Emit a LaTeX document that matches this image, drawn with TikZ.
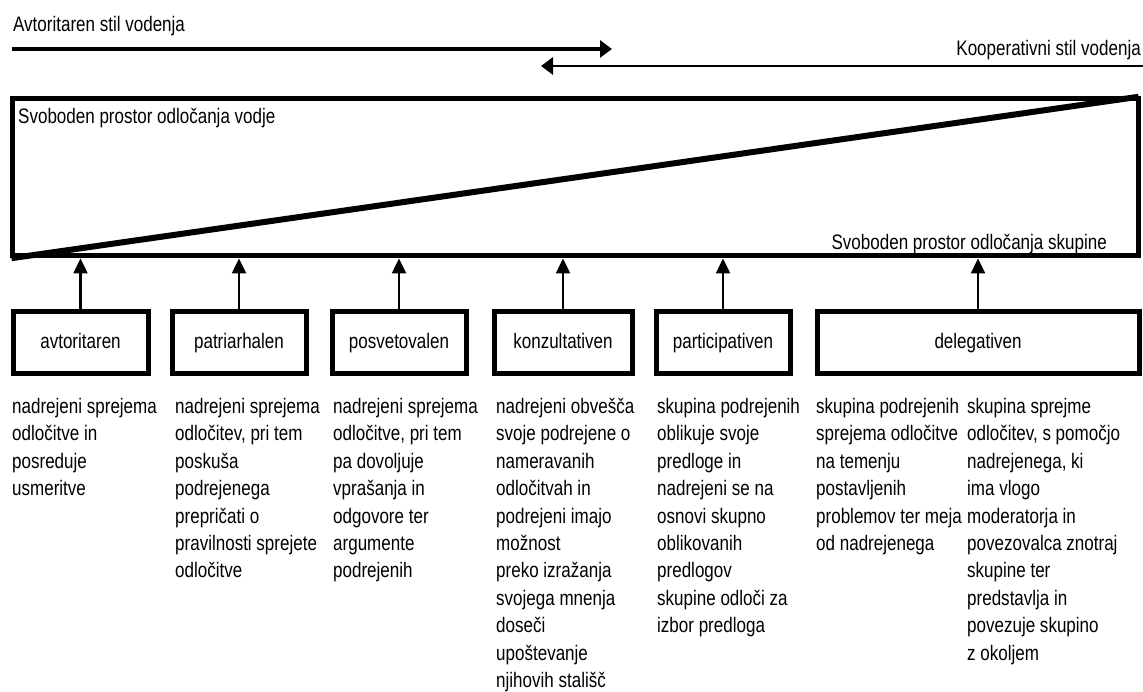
\documentclass[tikz,border=0pt]{standalone}
\usepackage{fontspec}
\setmainfont{Liberation Sans}[FakeStretch=0.81]
\usepackage{tikz}
\usetikzlibrary{arrows.meta,positioning,calc}

\begin{document}
\begin{tikzpicture}[
		x=1pt, y=-1pt,
		every node/.style={inner sep=0pt, font=\fontsize{21}{27.4}\selectfont},
		stilbox/.style={draw, line width=5pt, minimum height=62pt, text height=15pt, text depth=4.5pt},
		opis/.style={anchor=north west, align=left},
		gor/.style={-{Triangle[length=15pt,width=14pt]}, line width=2.5pt},
		smer/.style={-{Triangle[length=12pt,width=17pt]}}
	]
	\useasboundingbox (0,0) rectangle (1143,692);

	\node[anchor=base west] (avtstil) at (13,32) {Avtoritaren stil vodenja};
	\node[anchor=base east] (koopstil) at (1141,56) {Kooperativni stil vodenja};
	\coordinate (s1) at (12,49);
	\coordinate (s2) at (612,49);
	\coordinate (k1) at (1143,66);
	\coordinate (k2) at (541,66);
	\draw[smer, line width=3.6pt] (s1) -- (s2);
	\draw[smer, line width=2.8pt] (k1) -- (k2);

	\node[draw, line width=5pt, minimum width=1126pt, minimum height=157pt] (frame) at (575,177.5) {};
	\draw[line width=6pt, shorten <=2pt, shorten >=2pt] (frame.south west) -- (frame.north east);
	\node[anchor=base west] (vodja) at (18,124) {Svoboden prostor odločanja vodje};
	\node[anchor=base east] (skupina) at (1107,250) {Svoboden prostor odločanja skupine};

	\node[stilbox, minimum width=135pt] (avt) at (80.5,343) {avtoritaren};
	\node[stilbox, minimum width=134pt] (pat) at (239,343) {patriarhalen};
	\node[stilbox, minimum width=134pt] (pos) at (399,343) {posvetovalen};
	\node[stilbox, minimum width=138pt] (kon) at (563,343) {konzultativen};
	\node[stilbox, minimum width=134pt] (par) at (723,343) {participativen};
	\node[stilbox, minimum width=322pt] (del) at (978,343) {delegativen};

	\foreach \n in {avt,pat,pos,kon,par,del}
		\draw[gor] (\n.north) -- (\n.north |- frame.south);

	\node[opis] (avtopis) at (12,398) {nadrejeni sprejema\\odločitve in\\posreduje\\usmeritve};
	\node[opis] (patopis) at (175,398) {nadrejeni sprejema\\odločitev, pri tem\\poskuša\\podrejenega\\prepričati o\\pravilnosti sprejete\\odločitve};
	\node[opis] (posopis) at (333,398) {nadrejeni sprejema\\odločitve, pri tem\\pa dovoljuje\\vprašanja in\\odgovore ter\\argumente\\podrejenih};
	\node[opis] (konopis) at (496,398) {nadrejeni obvešča\\svoje podrejene o\\nameravanih\\odločitvah in\\podrejeni imajo\\možnost\\preko izražanja\\svojega mnenja\\doseči\\upoštevanje\\njihovih stališč};
	\node[opis] (paropis) at (657,398) {skupina podrejenih\\oblikuje svoje\\predloge in\\nadrejeni se na\\osnovi skupno\\oblikovanih\\predlogov\\skupine odloči za\\izbor predloga};
	\node[opis] (delopis) at (816,398) {skupina podrejenih\\sprejema odločitve\\na temenju\\postavljenih\\problemov ter meja\\od nadrejenega};
	\node[opis] (delopis2) at (967,398) {skupina sprejme\\odločitev, s pomočjo\\nadrejenega, ki\\ima vlogo\\moderatorja in\\povezovalca znotraj\\skupine ter\\predstavlja in\\povezuje skupino\\z okoljem};
\end{tikzpicture}
\end{document}
